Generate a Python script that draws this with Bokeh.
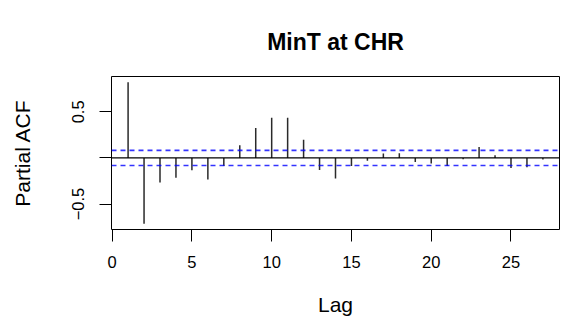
import numpy as np
from bokeh.plotting import figure
from bokeh.models import Range1d, FixedTicker, Span
from bokeh.embed import file_html
from bokeh.resources import INLINE

# Data (partial autocorrelation, lags 1..27)
lags = list(range(1, 28))
pacf = [0.822, -0.715, -0.266, -0.216, -0.133, -0.234, -0.087, 0.137, 0.325,
        0.437, 0.437, 0.196, -0.132, -0.223, -0.087, -0.030, 0.047, 0.050,
        -0.043, -0.060, -0.087, -0.014, 0.119, 0.030, -0.108, -0.100, -0.018]
clim = 0.082
title_text = "MinT at CHR"
xlabel = "Lag"
ylabel = "Partial ACF"
xticks = [0, 5, 10, 15, 20, 25]
yticks = [-0.5, 0, 0.5]

# R-style 4% axis expansion
xmin, xmax = min(lags), max(lags)
xr = xmax - xmin
ymin, ymax = min(min(pacf), -clim), max(max(pacf), clim)
yr = ymax - ymin

FONT = "Liberation Sans"

p = figure(width=561, height=334, output_backend="svg", toolbar_location=None,
           x_range=Range1d(xmin - 0.04 * xr, xmax + 0.04 * xr),
           y_range=Range1d(ymin - 0.04 * yr, ymax + 0.04 * yr),
           min_border_left=111, min_border_right=2, min_border_top=76,
           min_border_bottom=105, title=title_text)

p.background_fill_color = "white"
p.border_fill_color = "white"
p.outline_line_color = "black"
p.outline_line_width = 1
p.xgrid.visible = False
p.ygrid.visible = False

p.title.align = "center"
p.title.text_font = FONT
p.title.text_font_size = "23px"
p.title.text_font_style = "bold"
p.title.text_color = "black"
p.title.standoff = 43

# bars
p.segment(x0=lags, y0=[0] * len(lags), x1=lags, y1=pacf,
          line_color="#2a2a2a", line_width=1.5)

# zero line and confidence limits
p.add_layout(Span(location=0, dimension="width", line_color="black", line_width=1.2))
for c in (clim, -clim):
    p.add_layout(Span(location=c, dimension="width", line_color="#0000ff",
                      line_width=1.6, line_dash="5 4", line_alpha=0.8))

for ax in (p.xaxis[0], p.yaxis[0]):
    ax.axis_line_color = None
    ax.major_tick_line_color = "black"
    ax.major_tick_out = 12
    ax.major_tick_in = 0
    ax.minor_tick_line_color = None
    ax.major_label_text_font = FONT
    ax.major_label_text_font_size = "16.5px"
    ax.major_label_text_color = "black"
    ax.axis_label_text_font = FONT
    ax.axis_label_text_font_size = "21px"
    ax.axis_label_text_font_style = "normal"
    ax.axis_label_text_color = "black"

p.xaxis.ticker = FixedTicker(ticks=xticks)
p.xaxis.axis_label = xlabel
p.xaxis.major_label_standoff = 14
p.xaxis.axis_label_standoff = 22

p.yaxis.ticker = FixedTicker(ticks=yticks)
p.yaxis.major_label_overrides = {0: ""}
p.yaxis.major_label_orientation = "vertical"
p.yaxis.axis_label = ylabel
p.yaxis.major_label_standoff = 15
p.yaxis.axis_label_standoff = 36

open("out.html", "w").write(file_html(p, INLINE))
